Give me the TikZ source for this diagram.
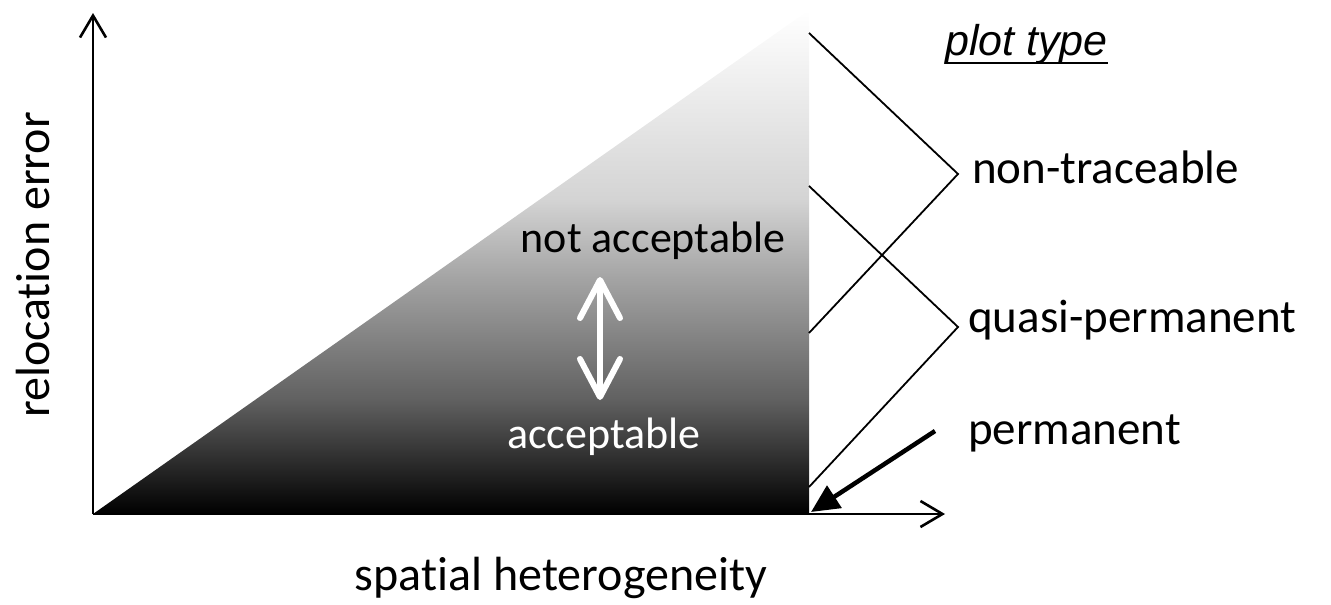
\documentclass[tikz,border=0pt]{standalone}
\usepackage{fontspec}
\setmainfont{Carlito}[RawFeature={-liga;-clig;-dlig;-calt}]
\newfontfamily\arialfont{Liberation Sans}
\usetikzlibrary{arrows.meta}
\pgfdeclareverticalshading{trishade}{100bp}{color(0bp)=(black); color(25bp)=(black); color(30.4bp)=(black!82); color(36.4bp)=(black!62); color(48.3bp)=(black!36); color(56.2bp)=(black!17); color(75bp)=(white); color(100bp)=(white)}
\begin{document}
\begin{tikzpicture}[x=1pt,y=-1pt,
  axis/.style={line width=2.6pt,-{Straight Barb[length=22pt,width=26pt]}},
  bracket/.style={line width=1.8pt,line join=miter},
  lbl/.style={inner sep=0pt,anchor=base west,font=\fontsize{47}{50}\selectfont},
  inner/.style={inner sep=0pt,anchor=base,font=\fontsize{44}{48}\selectfont}]
\useasboundingbox (0,0) rectangle (1331,605);
% coordinates
\coordinate (O) at (93,514);
\coordinate (Ytop) at (93,13);
\coordinate (Xend) at (945,514);
\coordinate (TR) at (809,514);
\coordinate (TT) at (809,10);
\coordinate (b1s) at (809,33);
\coordinate (b1a) at (958,174);
\coordinate (b1e) at (809,333);
\coordinate (b2s) at (809,186);
\coordinate (b2a) at (958,327);
\coordinate (b2e) at (809,487);
\coordinate (ps) at (935,431);
\coordinate (pe) at (811,512);
\coordinate (da) at (600,277);
\coordinate (db) at (600,400);
% triangle
\shade[shading=trishade] (O) -- (TR) -- (TT) -- cycle;
% axes
\draw[axis] (O) -- (Ytop);
\draw[axis] (O) -- (Xend);
% brackets
\draw[bracket] (b1s) -- (b1a) -- (b1e);
\draw[bracket] (b2s) -- (b2a) -- (b2e);
% permanent arrow
\draw[line width=4.5pt,-{Triangle[length=28pt,width=26pt]}] (ps) -- (pe);
% double arrow
\draw[white,line width=6pt,line cap=round,{Straight Barb[length=38pt,width=40pt,round]}-{Straight Barb[length=38pt,width=40pt,round]}] (da) -- (db);
% labels
\node[lbl] (nt) at (972,183) {non-traceable};
\node[lbl] (qp) at (968,332) {quasi-permanent};
\node[lbl] (pm) at (968,444) {permanent};
\node[inner sep=0pt,anchor=base west,font=\arialfont\itshape\fontsize{43}{46}\selectfont] (pt) at (945,55) {plot type};
\draw[line width=2.6pt] (pt.base west) ++(0,8) coordinate (u1) -- ([yshift=-8pt]pt.base east) coordinate (u2);
\node[inner] (na) at (653,252) {not acceptable};
\node[inner,text=white] (ac) at (604,448) {acceptable};
\node[inner sep=0pt,anchor=base,rotate=90,font=\fontsize{48}{50}\selectfont] (re) at (49,265) {relocation error};
\node[inner sep=0pt,anchor=base,font=\fontsize{48}{52}\selectfont] (sh) at (561,590) {spatial heterogeneity};
\end{tikzpicture}
\end{document}
